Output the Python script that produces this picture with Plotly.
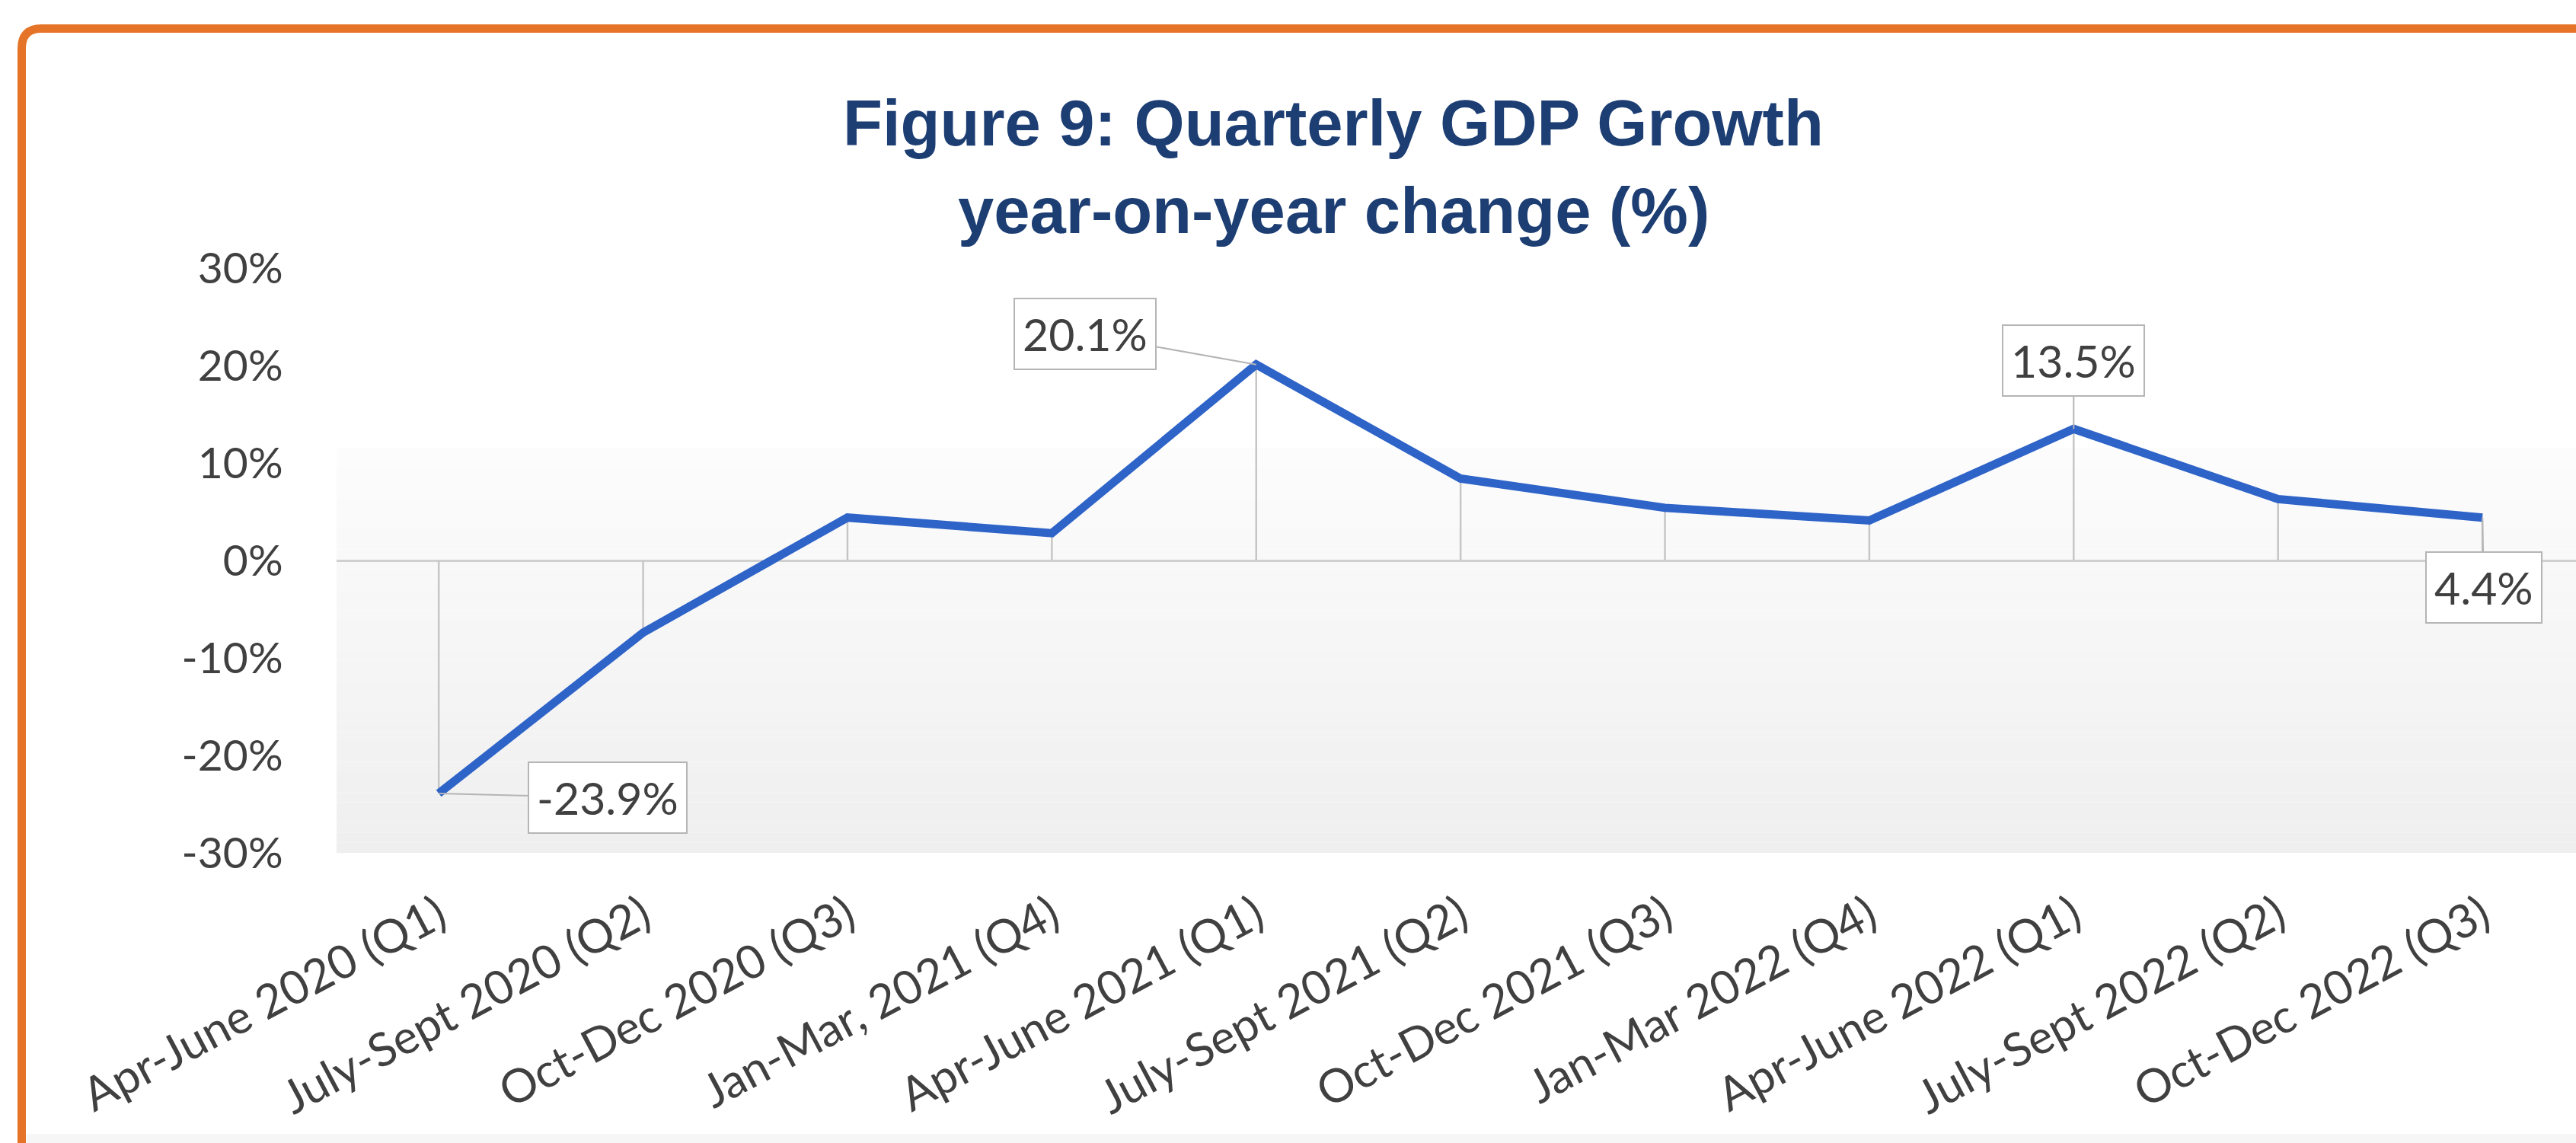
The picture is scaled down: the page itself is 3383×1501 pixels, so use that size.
import plotly.graph_objects as go

# ---------------- data ----------------
categories = [
    "Apr-June 2020 (Q1)", "July-Sept 2020 (Q2)", "Oct-Dec 2020 (Q3)",
    "Jan-Mar, 2021 (Q4)", "Apr-June 2021 (Q1)", "July-Sept 2021 (Q2)",
    "Oct-Dec 2021 (Q3)", "Jan-Mar 2022 (Q4)", "Apr-June 2022 (Q1)",
    "July-Sept 2022 (Q2)", "Oct-Dec 2022 (Q3)",
]
gdp_growth = [-23.9, -7.4, 4.4, 2.8, 20.1, 8.4, 5.4, 4.1, 13.5, 6.3, 4.4]
y_tick_values = [-30, -20, -10, 0, 10, 20, 30]
y_tick_labels = ["-30%", "-20%", "-10%", "0%", "10%", "20%", "30%"]
labelled_points = [0, 4, 8, 10]
title_line1 = "Figure 9: Quarterly GDP Growth"
title_line2 = "year-on-year change (%)"

# ---------------- layout constants ----------------
W, H = 3383, 1501
def xp(px):
    return px / W
def yp(py):
    return 1 - py / H

LINE_BLUE = "#2e63c8"
NAVY = "#1d3e73"
ORANGE = "#e57428"
TXT = "#404040"
FONT = "Lato"

# label offsets (pixels) for callouts: styling only
label_offsets = {0: (222, 6), 4: (-225, -40), 8: (0, -90), 10: (2, 92)}

fig = go.Figure()

# drop lines from each point to zero
dx, dy = [], []
for c, v in zip(categories, gdp_growth):
    dx += [c, c, None]
    dy += [0, v, None]
fig.add_trace(go.Scatter(x=dx, y=dy, mode="lines",
                         line=dict(color="#c6c6c6", width=2.5),
                         hoverinfo="skip", showlegend=False))

# main line
fig.add_trace(go.Scatter(x=categories, y=gdp_growth, mode="lines",
                         line=dict(color=LINE_BLUE, width=11),
                         showlegend=False))

shapes = []
# gradient background of plot area
n_bands = 40
top, bottom = 11.5, -30
for i in range(n_bands):
    y1 = top - (top - bottom) * i / n_bands
    y0 = top - (top - bottom) * (i + 1) / n_bands
    g = int(round(252 - (252 - 239) * (i / (n_bands - 1))))
    shapes.append(dict(type="rect", xref="x", yref="y", x0=-0.5, x1=10.5,
                       y0=y0, y1=y1, line=dict(width=0),
                       fillcolor=f"rgb({g},{g},{g})", layer="below"))

# orange frame with rounded top-left corner
lx, ty, r = 28.5, 37.5, 26
path = (f"M {xp(lx)},{yp(H + 50)} L {xp(lx)},{yp(ty + r)} "
        f"Q {xp(lx)},{yp(ty)} {xp(lx + r)},{yp(ty)} L {xp(W + 50)},{yp(ty)}")
shapes.append(dict(type="path", xref="paper", yref="paper", path=path,
                   line=dict(color=ORANGE, width=11), layer="above"))
# light band at the very bottom of the panel
shapes.append(dict(type="rect", xref="paper", yref="paper",
                   x0=xp(lx + 6), x1=1.02, y0=-0.02, y1=yp(1489),
                   line=dict(width=0), fillcolor="#f6f6f6", layer="below"))

annotations = [
    dict(text=f"<b>{title_line1}</b>", x=xp(1751), y=yp(161), xref="paper",
         yref="paper", showarrow=False, xanchor="center", yanchor="middle",
         font=dict(family="Liberation Sans", size=85, color=NAVY)),
    dict(text=f"<b>{title_line2}</b>", x=xp(1751), y=yp(276), xref="paper",
         yref="paper", showarrow=False, xanchor="center", yanchor="middle",
         font=dict(family="Liberation Sans", size=85, color=NAVY)),
]
for i in labelled_points:
    ax, ay = label_offsets[i]
    annotations.append(dict(
        x=categories[i], y=gdp_growth[i], xref="x", yref="y",
        text=f"{gdp_growth[i]}%", showarrow=True, arrowhead=0,
        arrowwidth=2, arrowcolor="#b5b5b5", ax=ax, ay=ay, standoff=0,
        bgcolor="white", bordercolor="#b5b5b5", borderwidth=2, borderpad=10,
        font=dict(family=FONT, size=59, color=TXT)))

fig.update_layout(
    width=W, height=H,
    margin=dict(l=0, r=0, t=0, b=0, autoexpand=False),
    paper_bgcolor="white", plot_bgcolor="rgba(0,0,0,0)",
    shapes=shapes, annotations=annotations, showlegend=False,
    xaxis=dict(domain=[xp(442), 1.0], range=[-0.5, 10.458],
               type="category", showgrid=False, zeroline=False,
               showline=False, tickangle=-28, ticks="outside",
               ticklen=22, tickcolor="rgba(0,0,0,0)", automargin=False,
               tickfont=dict(family=FONT, size=61, color=TXT)),
    yaxis=dict(domain=[yp(1120), yp(352)], range=[-30, 30],
               tickvals=y_tick_values, ticktext=y_tick_labels,
               showgrid=False, zeroline=True, zerolinecolor="#d0d0d0",
               zerolinewidth=3, showline=False, ticks="outside",
               ticklen=58, tickcolor="rgba(0,0,0,0)", automargin=False,
               tickfont=dict(family=FONT, size=57, color=TXT)),
)

fig.write_html("out.html")
